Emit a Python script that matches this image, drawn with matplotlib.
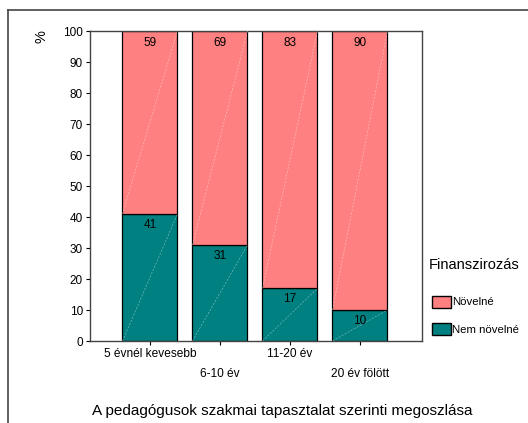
import matplotlib.pyplot as plt
from matplotlib.lines import Line2D
from matplotlib.patches import Patch

plt.rcParams['font.family'] = ['Liberation Sans', 'DejaVu Sans']

categories = ["5 évnél kevesebb", "6-10 év", "11-20 év", "20 év fölött"]
nem_novelne = [41, 31, 17, 10]
novelne = [59, 69, 83, 90]
series_names = ["Növelné", "Nem növelné"]

W, H = 528, 423
fig = plt.figure(figsize=(W / 100, H / 100), dpi=100)

# outer frame (left + top edge only visible)
fig.add_artist(Line2D([8 / W, 8 / W], [0, 1 - 10 / H], color="#444444", lw=1.2))
fig.add_artist(Line2D([8 / W, 1], [1 - 10 / H, 1 - 10 / H], color="#444444", lw=1.2))

ax = fig.add_axes([90 / W, 1 - 341 / H, 332 / W, 310 / H])

x = list(range(len(categories)))
width = 0.786
teal = "#008080"
pink = "#FF8080"

ax.bar(x, nem_novelne, width, color=teal, edgecolor="black", linewidth=0.9, zorder=2)
ax.bar(x, novelne, width, bottom=nem_novelne, color=pink, edgecolor="black", linewidth=0.9, zorder=2)

# faint diagonal streaks across each segment, as in the original
for i in x:
    x0, x1 = i - width / 2, i + width / 2
    ax.plot([x0, x1], [0, nem_novelne[i]], color="white", lw=0.5, alpha=0.45, ls=(0, (3, 2)), zorder=3)
    ax.plot([x0, x1], [nem_novelne[i], 100], color="white", lw=0.5, alpha=0.45, ls=(0, (3, 2)), zorder=3)

for i in x:
    ax.text(i, nem_novelne[i] - 3.5, str(nem_novelne[i]), ha="center", va="center", fontsize=8.5, zorder=4)
    ax.text(i, 100 - 3.9, str(novelne[i]), ha="center", va="center", fontsize=8.5, zorder=4)

ax.set_xlim(-0.857, 3.886)
ax.set_ylim(0, 100)
ax.set_yticks(range(0, 101, 10))
ax.tick_params(axis="y", labelsize=8.5, length=3, pad=2)
ax.set_xticks(x)
ax.set_xticklabels(["", "", "", ""])
ax.tick_params(axis="x", length=3)
for i, c in enumerate(categories):
    off = 9.5 if i % 2 == 0 else 24
    ax.annotate(c, (i, 0), xycoords="data", xytext=(0, -off), textcoords="offset points",
                ha="center", va="center", fontsize=8.6, annotation_clip=False)
for s in ax.spines.values():
    s.set_color("#444444")
    s.set_linewidth(1.0)

fig.text(42 / W, 1 - 37 / H, "%", rotation=90, ha="center", va="center", fontsize=10.5)

fig.text(474 / W, 1 - 265 / H, "Finanszirozás", ha="center", va="center", fontsize=10.5)
handles = [Patch(facecolor=pink, edgecolor="black"), Patch(facecolor=teal, edgecolor="black")]
fig.legend(handles, series_names, loc="upper left", bbox_to_anchor=(427 / W, 1 - 291 / H),
           frameon=False, fontsize=8.2, handlelength=1.75, handleheight=1.25,
           handletextpad=0.08, labelspacing=1.35, borderaxespad=0)

fig.text(282 / W, 1 - 411 / H, "A pedagógusok szakmai tapasztalat szerinti megoszlása",
         ha="center", va="center", fontsize=11)

fig.savefig("out.png", dpi=100)
